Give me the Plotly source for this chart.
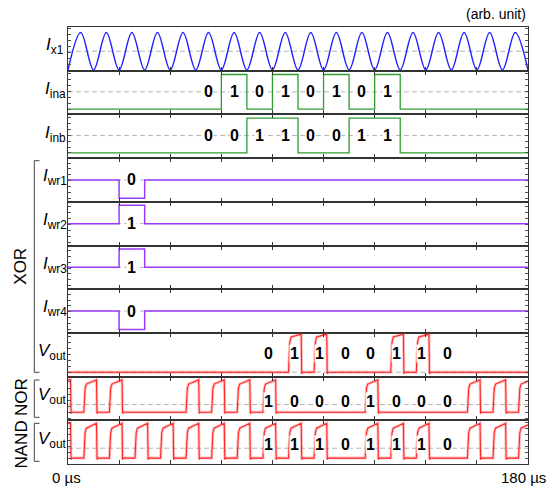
import plotly.graph_objects as go

# ---------------- data ----------------
# sine reference current Ix1: extrema (troughs / peaks)
ix1_t = [0, 5, 10, 15, 20, 25, 30, 35, 40, 45, 50, 55, 60, 65, 70, 75, 80, 85, 90,
         95, 100, 105, 110, 115, 120, 125, 130, 135, 140, 145, 150, 155, 160, 165, 170, 175, 180]
ix1_v = [0, 1, 0, 1, 0, 1, 0, 1, 0, 1, 0, 1, 0, 1, 0, 1, 0, 1, 0,
         1, 0, 1, 0, 1, 0, 1, 0, 1, 0, 1, 0, 1, 0, 1, 0, 1, 0]

ina_t = [0, 60, 70, 80, 90, 100, 110, 120, 130, 180]
ina_v = [0, 1, 0, 1, 0, 1, 0, 1, 0, 0]
inb_t = [0, 70, 90, 110, 130, 180]
inb_v = [0, 1, 0, 1, 0, 0]

in_bit_t = [55, 65, 75, 85, 95, 105, 115, 125]
ina_bits = ["0", "1", "0", "1", "0", "1", "0", "1"]
inb_bits = ["0", "0", "1", "1", "0", "0", "1", "1"]

wr_t = [0, 20, 30, 180]
wr1_v = [0.5, 0, 0.5, 0.5]
wr2_v = [0.5, 1, 0.5, 0.5]
wr3_v = [0.5, 1, 0.5, 0.5]
wr4_v = [0.5, 0, 0.5, 0.5]
wr_bit_t = 25
wr_bits = ["0", "1", "1", "0"]

out_bit_t = [78.5, 88.5, 98.5, 108.5, 118.5, 128.5, 138.5, 148.5]
xor_bits = ["0", "1", "1", "0", "0", "1", "1", "0"]
nor_bits = ["1", "0", "0", "0", "1", "0", "0", "0"]
nand_bits = ["1", "1", "1", "0", "1", "1", "1", "0"]

xor_rise = [86.3, 96.3, 126.3, 136.3]
nor_rise = [6.2, 16.2, 46.2, 56.2, 66.2, 76.3, 116.3, 156.3, 166.3, 176.3]
nand_rise = [6.2, 16.2, 26.2, 36.2, 46.2, 56.2, 66.2, 76.3, 86.3, 96.3,
             116.3, 126.3, 136.3, 156.3, 166.3, 176.3]
pulse_width = 5.0
# (start-high, high level at rise, high level at fall)
xor_level = (False, 0.96, 1.03)
nor_level = (True, 0.93, 1.07)
nand_level = (True, 0.91, 1.06)

# ---------------- style ----------------
FONT = "Liberation Sans, Arial, Helvetica, sans-serif"
BLUE = "#2020ff"
GREEN = "#2f9e2f"
PURPLE = "#9a3cff"
RED = "#ff2626"
AX = "#333333"
W, H = 558, 488
ML, MR, MT, MB = 68, 30, 27, 24
PW, PH = W - ML - MR, H - MT - MB


def px2x(px):
    return (px - ML) / PW


def px2y(py):
    return (H - MB - py) / PH


def xn(i):
    return "x" if i == 0 else f"x{i+1}"


def yn(i):
    return "y" if i == 0 else f"y{i+1}"


def pulse_points(rises, level):
    start_high, hi0, hi1 = level
    if start_high:
        ts, vs = [0, 1.0, 1.2, 1.5], [hi1, hi1 + 0.01, -0.04, 0]
    else:
        ts, vs = [0], [0]
    for r in rises:
        ts += [r, r + 0.5, r + 1.0, r + pulse_width - 0.05, r + pulse_width + 0.15, r + pulse_width + 0.5]
        vs += [0, hi0 * 0.85, hi0, hi1, -0.04, 0]
    if ts[-1] < 180:
        ts.append(180)
        vs.append(0)
    return ts, vs


panels = [
    dict(label="<i>I</i><sub>x1</sub>", rng=[-0.019, 1.149], dash=0.5, dt=0.16, lx=55),
    dict(label="<i>I</i><sub>ina</sub>", rng=[-0.15, 1.11], dash=0.5, dt=0.17, lx=55),
    dict(label="<i>I</i><sub>inb</sub>", rng=[-0.15, 1.11], dash=0.5, dt=0.17, lx=55),
    dict(label="<i>I</i><sub>wr1</sub>", rng=[-0.095, 1.095], dash=0.5, dt=0.16, lx=55),
    dict(label="<i>I</i><sub>wr2</sub>", rng=[-0.095, 1.095], dash=0.5, dt=0.16, lx=55),
    dict(label="<i>I</i><sub>wr3</sub>", rng=[-0.095, 1.095], dash=0.5, dt=0.16, lx=55),
    dict(label="<i>I</i><sub>wr4</sub>", rng=[-0.095, 1.095], dash=0.5, dt=0.16, lx=55),
    dict(label="<i>V</i><sub>out</sub>", rng=[-0.12, 1.068], dash=0.0, dt=0.16, lx=52),
    dict(label="<i>V</i><sub>out</sub>", rng=[-0.267, 1.177], dash=0.257, dt=0.2, lx=52),
    dict(label="<i>V</i><sub>out</sub>", rng=[-0.18, 1.15], dash=0.3, dt=0.18, lx=52),
]
N = len(panels)

fig = go.Figure()


def add_line(i, t, v, color, shape="linear", width=1.3, opacity=1.0):
    line = dict(color=color, width=width, shape=shape)
    if shape == "spline":
        line["smoothing"] = 1.0
    fig.add_trace(go.Scatter(
        x=t, y=v, mode="lines", xaxis=xn(i), yaxis=yn(i),
        line=line, opacity=opacity, hoverinfo="skip", showlegend=False))


add_line(0, ix1_t, ix1_v, BLUE, "spline", 1.4)
add_line(1, ina_t, ina_v, GREEN, "hv", 1.3)
add_line(2, inb_t, inb_v, GREEN, "hv", 1.3)
for k, wv in enumerate([wr1_v, wr2_v, wr3_v, wr4_v]):
    add_line(3 + k, wr_t, wv, PURPLE, "hv", 1.5)
for k, (rises, lev) in enumerate([(xor_rise, xor_level), (nor_rise, nor_level), (nand_rise, nand_level)]):
    tt, vv = pulse_points(rises, lev)
    add_line(7 + k, tt, vv, RED, "linear", 3.0, 0.28)
    add_line(7 + k, tt, vv, RED, "linear", 1.1)

layout = dict(width=W, height=H, margin=dict(l=ML, r=MR, t=MT, b=MB),
              paper_bgcolor="white", plot_bgcolor="white", showlegend=False,
              font=dict(family=FONT, size=14, color="black"))
shapes = []
annotations = []
for i, p in enumerate(panels):
    top = 1 - i / N
    bot = 1 - (i + 1) / N
    xkey = "xaxis" if i == 0 else f"xaxis{i+1}"
    ykey = "yaxis" if i == 0 else f"yaxis{i+1}"
    xa = dict(
        domain=[0, 1], anchor=yn(i), range=[0, 180],
        tickvals=[20, 40, 60, 80, 100, 120, 140, 160], showticklabels=False,
        ticks="inside", ticklen=4, tickwidth=1, tickcolor=AX,
        showline=True, linecolor=AX, linewidth=1,
        mirror=True if i == 0 else "ticks", showgrid=False, zeroline=False)
    if i:
        xa["matches"] = "x"
    layout[xkey] = xa
    layout[ykey] = dict(
        domain=[bot, top], anchor=xn(i), range=p["rng"], dtick=p["dt"],
        showticklabels=False, ticks="inside", ticklen=3, tickwidth=1, tickcolor="#555",
        showline=True, linecolor=AX, linewidth=1, mirror="ticks",
        showgrid=False, zeroline=False)
    shapes.append(dict(type="line", xref=xn(i), yref=yn(i), x0=0, x1=180,
                       y0=p["dash"], y1=p["dash"], layer="below",
                       line=dict(color="#b4b4b4", width=1, dash="5px,3px")))
    annotations.append(dict(text=p["label"], xref="paper", yref=f"{yn(i)} domain",
                            x=px2x(p["lx"]), y=0.56, xanchor="center", yanchor="middle",
                            showarrow=False, font=dict(size=17, family=FONT)))

BIT_FONT = dict(size=16, family=FONT, color="black")


def bit_labels(i, ts, bits, y):
    for t, b in zip(ts, bits):
        annotations.append(dict(text=f"<b>{b}</b>", xref=xn(i), yref=yn(i), x=t, y=y,
                                showarrow=False, bgcolor="white", borderpad=0,
                                xanchor="center", yanchor="middle", font=BIT_FONT))


bit_labels(1, in_bit_t, ina_bits, 0.5)
bit_labels(2, in_bit_t, inb_bits, 0.5)
for k, b in enumerate(wr_bits):
    bit_labels(3 + k, [wr_bit_t], [b], 0.5)
bit_labels(7, out_bit_t, xor_bits, 0.51)
bit_labels(8, out_bit_t, nor_bits, 0.35)
bit_labels(9, out_bit_t, nand_bits, 0.41)

# brackets
for (ytop, ybot) in [(160.7, 372.3), (380.0, 417.3), (423.3, 461.3)]:
    for seg in [(34.3, ytop, 34.3, ybot), (34.3, ytop, 39.5, ytop), (34.3, ybot, 39.5, ybot)]:
        shapes.append(dict(type="line", xref="paper", yref="paper",
                           x0=px2x(seg[0]), y0=px2y(seg[1]), x1=px2x(seg[2]), y1=px2y(seg[3]),
                           line=dict(color="#444", width=1)))
for txt, yc in [("XOR", 266.7), ("NOR", 397.0), ("NAND", 444.5)]:
    annotations.append(dict(text=txt, xref="paper", yref="paper", x=px2x(21.0), y=px2y(yc),
                            textangle=-90, showarrow=False, xanchor="center", yanchor="middle",
                            font=dict(size=17, family=FONT)))

annotations.append(dict(text="(arb. unit)", xref="paper", yref="paper", x=1.0, y=px2y(14),
                        xanchor="right", yanchor="middle", showarrow=False, font=dict(size=14)))
annotations.append(dict(text="0 µs", xref="paper", yref="paper", x=px2x(66.5), y=px2y(477.7),
                        xanchor="center", yanchor="middle", showarrow=False, font=dict(size=15)))
annotations.append(dict(text="180 µs", xref="paper", yref="paper", x=px2x(523), y=px2y(477.7),
                        xanchor="center", yanchor="middle", showarrow=False, font=dict(size=15)))

layout["shapes"] = shapes
layout["annotations"] = annotations
fig.update_layout(**layout)
fig.write_html("out.html", config={"displayModeBar": False},
               post_script="document.body.style.margin='0px';document.body.style.padding='0px';")
